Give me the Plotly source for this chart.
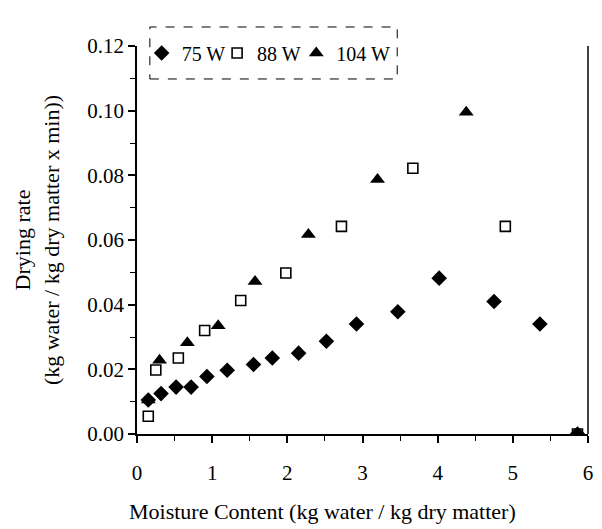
import plotly.graph_objects as go

# 75 W
x75 = [0.15, 0.32, 0.52, 0.72, 0.93, 1.20, 1.55, 1.80, 2.15, 2.52, 2.92, 3.47, 4.02, 4.75, 5.36, 5.86]
y75 = [0.0105, 0.0125, 0.0145, 0.0145, 0.0178, 0.0197, 0.0215, 0.0235, 0.0250, 0.0287, 0.0340, 0.0378, 0.0482, 0.0410, 0.0340, 0.0]
# 88 W
x88 = [0.15, 0.25, 0.55, 0.90, 1.38, 1.98, 2.72, 3.67, 4.90, 5.86]
y88 = [0.0055, 0.0198, 0.0235, 0.0320, 0.0413, 0.0498, 0.0642, 0.0822, 0.0642, 0.0]
# 104 W
x104 = [0.15, 0.30, 0.67, 1.08, 1.57, 2.28, 3.20, 4.38, 5.86]
y104 = [0.0105, 0.0228, 0.0282, 0.0335, 0.0472, 0.0617, 0.0787, 0.0995, 0.0]

x_title = "Moisture Content (kg water / kg dry matter)"
y_title = "Drying rate<br>(kg water / kg dry matter x min))"

FONT = "Liberation Serif"
FS = 22
TFS = 21
LFS = 20

fig = go.Figure()
fig.add_trace(go.Scatter(x=x75, y=y75, mode="markers", name="75 W", legend="legend",
                         marker=dict(symbol="diamond", size=12, color="black")))
fig.add_trace(go.Scatter(x=x88, y=y88, mode="markers", name="88 W", legend="legend2",
                         marker=dict(symbol="square-open", size=10, color="black",
                                     line=dict(width=1.6, color="black"))))
fig.add_trace(go.Scatter(x=x104, y=y104, mode="markers", name="104 W", legend="legend3",
                         marker=dict(symbol="triangle-up", size=13, color="black")))

leg_common = dict(orientation="h", y=0.982, xanchor="left", yanchor="middle",
                  bgcolor="rgba(0,0,0,0)", borderwidth=0,
                  font=dict(family=FONT, size=LFS), itemwidth=30)

fig.update_layout(
    width=602, height=529,
    margin=dict(l=137, r=9, t=46, b=95),
    paper_bgcolor="white", plot_bgcolor="white",
    font=dict(family=FONT, size=FS, color="black"),
    showlegend=True,
    legend=dict(x=0.0103, **leg_common),
    legend2=dict(x=0.1776, **leg_common),
    legend3=dict(x=0.3531, **leg_common),
    xaxis=dict(range=[0, 6], dtick=1, tick0=0, showgrid=False, zeroline=False,
               showline=True, linecolor="black", linewidth=1.5,
               ticks="outside", ticklen=7, tickwidth=1.5, tickcolor="black",
               ticklabelstandoff=12,
               minor=dict(dtick=0.5, ticks="outside", ticklen=5, tickwidth=1, tickcolor="black"),
               tickfont=dict(family=FONT, size=TFS)),
    yaxis=dict(range=[0, 0.12], dtick=0.02, tick0=0, tickformat=".2f", showgrid=False,
               zeroline=False, showline=True, linecolor="black", linewidth=1.5,
               ticks="outside", ticklen=7, tickwidth=1.5, tickcolor="black",
               minor=dict(dtick=0.01, ticks="outside", ticklen=5, tickwidth=1, tickcolor="black"),
               tickfont=dict(family=FONT, size=TFS)),
)

# axis titles as annotations (reference centres them off the plot centre)
fig.add_annotation(text=x_title, xref="paper", yref="paper", x=0.412, y=-0.201,
                   xanchor="center", yanchor="middle", showarrow=False,
                   font=dict(family=FONT, size=FS))
fig.add_annotation(text=y_title, xref="paper", yref="paper", x=-0.2215, y=0.5,
                   xanchor="center", yanchor="middle", showarrow=False, textangle=-90,
                   font=dict(family=FONT, size=FS))

# right frame line
fig.add_shape(type="line", xref="paper", yref="paper", x0=1, x1=1, y0=0, y1=1,
              line=dict(color="black", width=1.5))
# dashed legend frame
fig.add_shape(type="rect", xref="paper", yref="paper", x0=0.0285, x1=0.577, y0=0.915, y1=1.049,
              line=dict(color="black", width=1, dash="dash"))

fig.write_html("out.html",
               config={"displayModeBar": False},
               post_script="document.body.style.margin='0';document.body.style.overflow='hidden';")
